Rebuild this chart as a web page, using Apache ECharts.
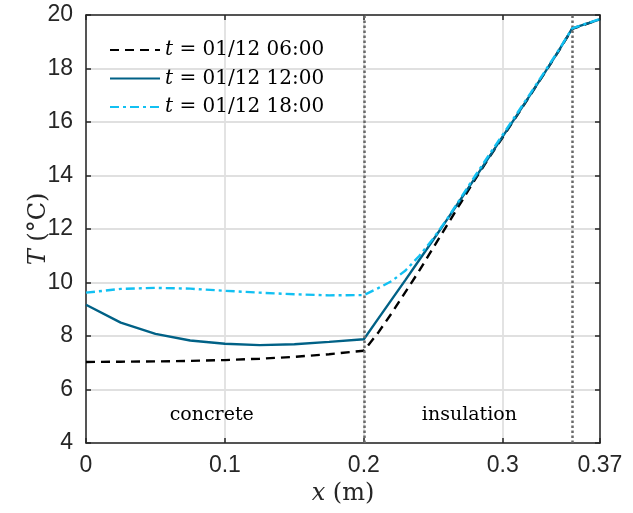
<!DOCTYPE html>
<html>
<head>
<meta charset="utf-8">
<script src="https://cdn.jsdelivr.net/npm/echarts@6/dist/echarts.min.js"></script>
<style>
html,body{margin:0;padding:0;background:#fff;}
#chart{width:633px;height:513px;}
</style>
</head>
<body>
<div id="chart"></div>
<script>
// ---- data ----
var xPos = [0, 0.025, 0.05, 0.075, 0.1, 0.125, 0.15, 0.175, 0.2, 0.21, 0.22, 0.23, 0.24, 0.25, 0.26, 0.27, 0.28, 0.29, 0.3, 0.31, 0.32, 0.33, 0.34, 0.35, 0.36, 0.37];
var t0600 = [7.03, 7.04, 7.05, 7.07, 7.10, 7.15, 7.22, 7.32, 7.45, 8.10, 8.85, 9.65, 10.45, 11.30, 12.15, 13.00, 13.85, 14.65, 15.43, 16.22, 17.02, 17.82, 18.63, 19.48, 19.66, 19.84];
var t1200 = [9.17, 8.50, 8.08, 7.83, 7.71, 7.66, 7.69, 7.78, 7.88, 8.62, 9.36, 10.10, 10.85, 11.60, 12.36, 13.13, 13.90, 14.68, 15.46, 16.24, 17.03, 17.83, 18.64, 19.50, 19.67, 19.84];
var t1800 = [9.62, 9.76, 9.80, 9.77, 9.69, 9.62, 9.56, 9.52, 9.53, 9.78, 10.05, 10.45, 11.00, 11.65, 12.38, 13.18, 13.98, 14.76, 15.53, 16.30, 17.08, 17.87, 18.67, 19.50, 19.68, 19.85];
var seriesNames = ['t = 01/12 06:00', 't = 01/12 12:00', 't = 01/12 18:00'];
var legendTimes = ['01/12 06:00', '01/12 12:00', '01/12 18:00'];
var layerBounds = [0.2, 0.35];
var layerNames = ['concrete', 'insulation'];
var layerLabelPos = [[0.0905, 5.05], [0.276, 5.05]];
var xTickLabels = {0: '0', 0.1: '0.1', 0.2: '0.2', 0.3: '0.3', 0.37: '0.37'};

function pairs(ys) { return xPos.map(function (x, i) { return [x, ys[i]]; }); }

var chart = echarts.init(document.getElementById('chart'), null, {renderer: 'canvas'});
var frameColor = '#262626';
var gridColor = '#e0e0e0';
var serif = '"DejaVu Serif", "Liberation Serif", serif';
var sans = '"Liberation Sans", Arial, Helvetica, sans-serif';

var option = {
  animation: false,
  backgroundColor: '#fff',
  grid: {left: 86, right: 33, top: 15, bottom: 70, containLabel: false},
  legend: {
    orient: 'vertical',
    left: 104,
    top: 35,
    itemWidth: 50,
    itemHeight: 20,
    itemGap: 8.5,
    itemStyle: {opacity: 0},
    data: seriesNames,
    formatter: function (name) {
      var idx = seriesNames.indexOf(name);
      return '{i|t} = ' + legendTimes[idx];
    },
    textStyle: {
      fontFamily: serif,
      fontSize: 20,
      color: '#000',
      rich: {i: {fontFamily: serif, fontStyle: 'italic', fontSize: 20, color: '#000'}}
    }
  },
  xAxis: [{
    type: 'value', min: 0, max: 0.37, interval: 0.1, position: 'bottom',
    name: '{i|x} (m)', nameLocation: 'middle', nameGap: 36,
    nameTextStyle: {fontFamily: serif, fontSize: 24, color: '#262626',
      rich: {i: {fontFamily: serif, fontStyle: 'italic', fontSize: 24, color: '#262626'}}},
    axisLine: {show: true, onZero: false, lineStyle: {color: frameColor, width: 1.5}},
    axisTick: {show: true, inside: true, length: 5, lineStyle: {color: frameColor, width: 1.5}},
    axisLabel: {show: true, margin: 11, fontFamily: sans, fontSize: 23, color: '#262626',
      formatter: function (v) { var k = Math.round(v * 100) / 100; return xTickLabels[k] !== undefined ? xTickLabels[k] : ''; }},
    splitLine: {show: true, lineStyle: {color: gridColor, width: 1.8}}
  }, {
    type: 'value', min: 0, max: 0.37, interval: 0.1, position: 'top',
    axisLine: {show: true, onZero: false, lineStyle: {color: frameColor, width: 1.5}},
    axisTick: {show: true, inside: true, length: 5, lineStyle: {color: frameColor, width: 1.5}},
    axisLabel: {show: false}, splitLine: {show: false}
  }],
  yAxis: [{
    type: 'value', min: 4, max: 20, interval: 2, position: 'left',
    name: '{i|T} (°C)', nameLocation: 'middle', nameGap: 35, nameRotate: 90,
    nameMoveOverlap: false,
    nameTextStyle: {fontFamily: serif, fontSize: 24, color: '#262626',
      rich: {i: {fontFamily: serif, fontStyle: 'italic', fontSize: 24, color: '#262626'}}},
    axisLine: {show: true, onZero: false, lineStyle: {color: frameColor, width: 1.5}},
    axisTick: {show: true, inside: true, length: 5, lineStyle: {color: frameColor, width: 1.5}},
    axisLabel: {show: true, margin: 13, fontFamily: sans, fontSize: 23, color: '#262626'},
    splitLine: {show: true, lineStyle: {color: gridColor, width: 1.8}}
  }, {
    type: 'value', min: 4, max: 20, interval: 2, position: 'right',
    axisLine: {show: true, onZero: false, lineStyle: {color: frameColor, width: 1.5}},
    axisTick: {show: true, inside: true, length: 5, lineStyle: {color: frameColor, width: 1.5}},
    axisLabel: {show: false}, splitLine: {show: false}
  }],
  series: [{
    name: seriesNames[0], type: 'line', data: pairs(t0600), symbol: 'none', z: 3,
    lineStyle: {color: '#000000', width: 2.4, type: [9, 6]},
    itemStyle: {color: '#000000'},
    markLine: {
      silent: true, symbol: 'none', label: {show: false},
      lineStyle: {color: '#6a6a6a', width: 2.5, type: [2.5, 2.5], opacity: 1},
      data: layerBounds.map(function (b) { return {xAxis: b}; })
    }
  }, {
    name: seriesNames[1], type: 'line', data: pairs(t1200), symbol: 'none', z: 4,
    lineStyle: {color: '#006186', width: 2.4, type: 'solid'},
    itemStyle: {color: '#006186'}
  }, {
    name: seriesNames[2], type: 'line', data: pairs(t1800), symbol: 'none', z: 5,
    lineStyle: {color: '#12c0f2', width: 2.4, type: [9, 4, 3, 4]},
    itemStyle: {color: '#12c0f2'}
  }]
};
chart.setOption(option);

var gfx = layerNames.map(function (n, i) {
  var p = chart.convertToPixel({xAxisIndex: 0, yAxisIndex: 0}, layerLabelPos[i]);
  return {type: 'text', x: p[0], y: p[1], style: {text: n, fontFamily: serif, fontSize: 19, fill: '#000', align: 'center', verticalAlign: 'middle'}};
});
chart.setOption({graphic: gfx});
</script>
</body>
</html>
